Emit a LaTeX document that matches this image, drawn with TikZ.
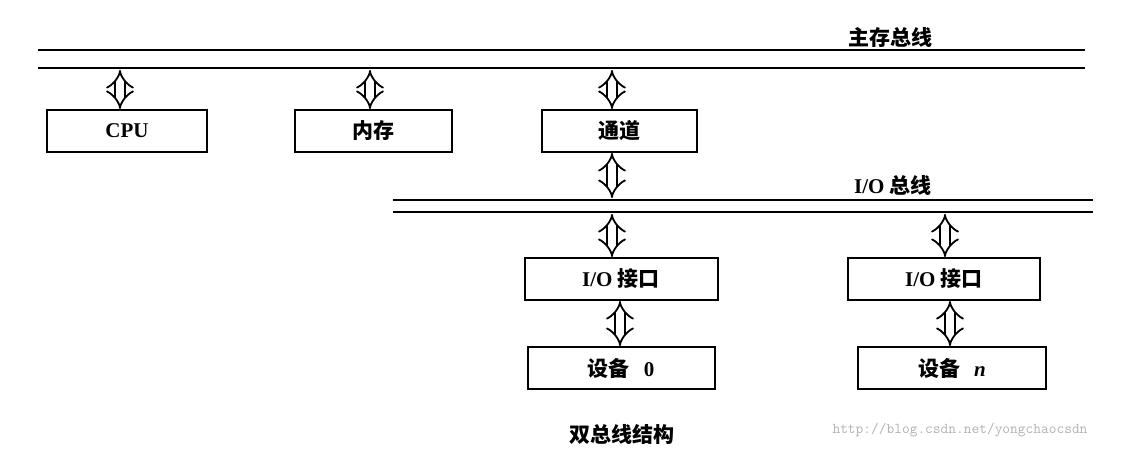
\documentclass[tikz,border=0pt]{standalone}
\usepackage{fontspec}
\setmainfont{Liberation Serif}
\newfontfamily\cjk{Noto Sans CJK SC}
\usetikzlibrary{arrows.meta}
\tikzset{
  box/.style={draw,line width=2pt,minimum width=#1,minimum height=42pt,inner sep=0pt,font=\fontsize{21}{23}\selectfont\bfseries},
  busline/.style={line width=2pt},
  darrow/.style={double,double distance=8pt,line width=1.8pt,{Implies}-{Implies}},
  lbl/.style={font=\fontsize{21}{23}\selectfont\bfseries}
}
\begin{document}
\begin{tikzpicture}[x=1pt,y=-1pt]
\useasboundingbox (0,0) rectangle (1135,448);
% main bus
\coordinate (mb1l) at (38,50); \coordinate (mb1r) at (1085,50);
\coordinate (mb2l) at (38,68); \coordinate (mb2r) at (1085,68);
\draw[busline] (mb1l) -- (mb1r);
\draw[busline] (mb2l) -- (mb2r);
\node[lbl] (mbl) at (890,37) {\cjk 主存总线};
% boxes
\node[box=160pt] (cpu) at (127,131) {CPU};
\node[box=157pt] (mem) at (373,131) {\cjk 内存};
\node[box=155pt] (ch) at (619,131) {\cjk 通道};
\coordinate (a1) at (120,70); \coordinate (a2) at (370,70); \coordinate (a3) at (612,70);
\draw[darrow] (a1) -- (a1 |- cpu.north);
\draw[darrow] (a2) -- (a2 |- mem.north);
\draw[darrow] (a3) -- (a3 |- ch.north);
% io bus
\coordinate (ib1l) at (393,200); \coordinate (ib1r) at (1093,200);
\coordinate (ib2l) at (393,212); \coordinate (ib2r) at (1093,212);
\draw[busline] (ib1l) -- (ib1r);
\draw[busline] (ib2l) -- (ib2r);
\node[lbl] (ibl) at (893,185) {I/O \cjk 总线};
\coordinate (c1) at (612,198);
\draw[darrow] (c1 |- ch.south) -- (c1);
% interfaces
\node[box=193pt] (if0) at (621,279) {I/O \cjk 接口};
\node[box=192pt] (if1) at (944,279) {I/O \cjk 接口};
\coordinate (d1) at (612,214); \coordinate (d2) at (945,214);
\draw[darrow] (d1) -- (d1 |- if0.north);
\draw[darrow] (d2) -- (d2 |- if1.north);
% devices
\node[box=187pt] (dev0) at (621,368) {{\cjk 设备}\hspace{14pt}0};
\node[box=188pt] (dev1) at (952,368) {{\cjk 设备}\hspace{14pt}\textit{n}};
\coordinate (e1) at (620,0); \coordinate (e2) at (950,0);
\draw[darrow] (e1 |- if0.south) -- (e1 |- dev0.north);
\draw[darrow] (e2 |- if1.south) -- (e2 |- dev1.north);
% caption
\node[lbl] (cap) at (622,434) {\cjk 双总线结构};
\node[font=\fontsize{15}{17}\selectfont\ttfamily,text=gray!60] (wm) at (960,430) {http://blog.csdn.net/yongchaocsdn};
\end{tikzpicture}
\end{document}
